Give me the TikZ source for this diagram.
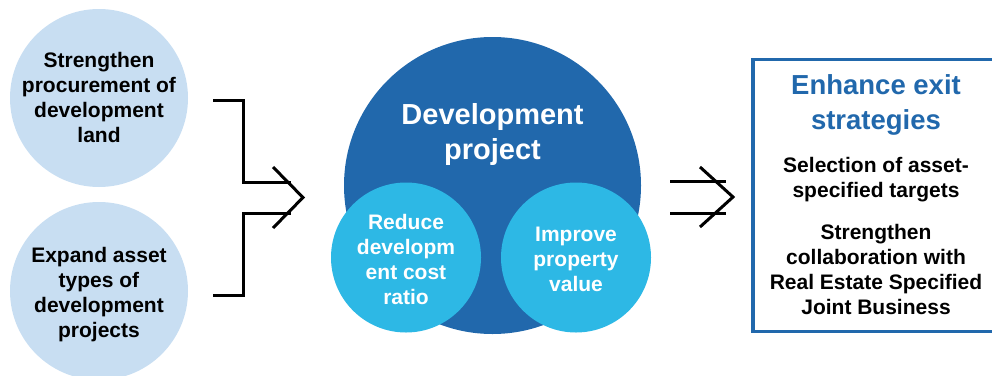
\documentclass[tikz,border=0pt]{standalone}
\usepackage{fontspec}
\setmainfont{Liberation Sans}
\definecolor{paleblue}{HTML}{C8DEF2}
\definecolor{deepblue}{HTML}{2168AC}
\definecolor{skyblue}{HTML}{2DB8E5}
\tikzset{
  disc/.style={circle, inner sep=0pt, minimum size=#1},
  bodytext/.style={font=\bfseries\fontsize{21}{25}\selectfont, align=center, inner sep=0pt},
  headtext/.style={font=\bfseries\fontsize{29}{35}\selectfont, align=center, inner sep=0pt},
  boxhead/.style={font=\bfseries\fontsize{27.5}{35}\selectfont, align=center, inner sep=0pt, text=deepblue},
  link/.style={line width=3pt, line cap=butt, line join=miter},
}
\begin{document}
\begin{tikzpicture}[x=1pt, y=-1pt]
\useasboundingbox (0,0) rectangle (992,375);
\clip (0,0) rectangle (992,375);

% input circles
\node[disc=178pt, fill=paleblue] (land) at (99,98) {};
\node[disc=178pt, fill=paleblue] (types) at (99,291) {};
\node[bodytext] (landtxt) at (99,97) {Strengthen\\procurement of\\development\\land};
\node[bodytext] (typestxt) at (99,295) {Expand asset\\types of\\development\\projects};

% merging bracket with open arrowhead
\coordinate (b1) at (213,100);
\coordinate (b2) at (243,100);
\coordinate (b3) at (243,182);
\coordinate (b4) at (291,182);
\coordinate (c1) at (213,295);
\coordinate (c2) at (243,295);
\coordinate (c3) at (243,213);
\coordinate (c4) at (291,213);
\coordinate (h1) at (273,167);
\coordinate (h2) at (303,197.5);
\coordinate (h3) at (273,228);
\draw[link] (b1) -- (b2) -- (b3) -- (b4);
\draw[link] (c1) -- (c2) -- (c3) -- (c4);
\draw[link] (h1) -- (h2) -- (h3);

% central project circle
\node[disc=297pt, fill=deepblue] (proj) at (492.5,185.5) {};
\node[headtext, text=white] (projtxt) at (492.5,134) {Development\\project};
\node[disc=150pt, fill=skyblue] (cost) at (406,257.5) {};
\node[disc=150pt, fill=skyblue] (value) at (576,257.5) {};
\node[bodytext, text=white] (costtxt) at (406,259) {Reduce\\developm\\ent cost\\ratio};
\node[bodytext, text=white] (valuetxt) at (576,259) {Improve\\property\\value};

% output arrow
\coordinate (d1) at (670,181);
\coordinate (d2) at (726,181);
\coordinate (e1) at (670,213);
\coordinate (e2) at (726,213);
\coordinate (g1) at (700,167);
\coordinate (g2) at (733,197);
\coordinate (g3) at (700,227);
\draw[link] (d1) -- (d2);
\draw[link] (e1) -- (e2);
\draw[link] (g1) -- (g2) -- (g3);

% exit strategies panel
\draw[deepblue, line width=3.8pt] (1010,59.5) -- (753,59.5) -- (753,331.5) -- (1010,331.5);
\node[boxhead] (exithead) at (876,105) {Enhance exit\\strategies};
\node[bodytext] (targets) at (876,180) {Selection of asset-\\specified targets};
\node[bodytext] (collab) at (876,269) {Strengthen\\collaboration with\\Real Estate Specified\\Joint Business};
\end{tikzpicture}
\end{document}
